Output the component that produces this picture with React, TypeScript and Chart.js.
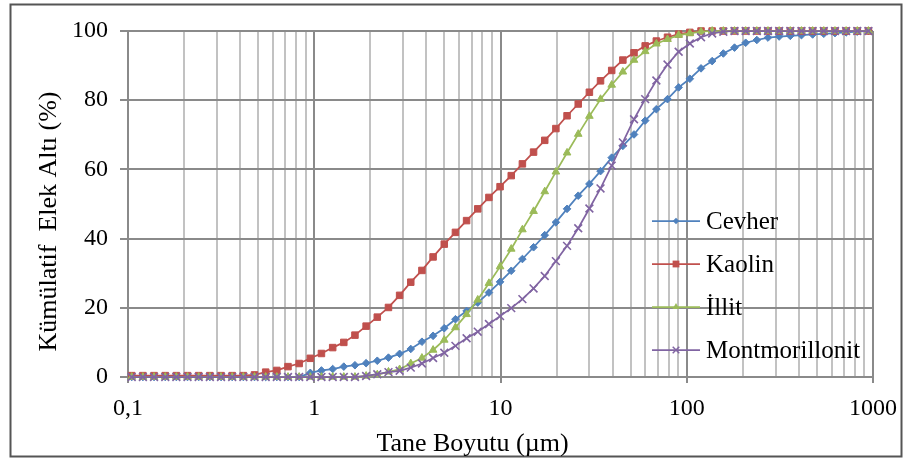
import React, { useEffect, useRef } from "react";
import { Chart, registerables } from "chart.js";

Chart.register(...registerables);

const FONT = "'Liberation Serif', 'Times New Roman', Times, serif";

// Particle size (µm) of each measured point
const sizes = [
  0.1047, 0.1202, 0.138, 0.1585, 0.1818, 0.2087, 0.2396, 0.2751, 0.3158, 0.3626,
  0.4163, 0.4778, 0.5486, 0.6297, 0.7228, 0.8299, 0.9526, 1.093, 1.256, 1.441,
  1.654, 1.899, 2.18, 2.503, 2.873, 3.298, 3.786, 4.346, 4.99, 5.728,
  6.575, 7.549, 8.666, 9.947, 11.42, 13.11, 15.05, 17.28, 19.83, 22.77,
  26.14, 30.01, 34.44, 39.54, 45.39, 52.11, 59.82, 68.68, 78.83, 90.49,
  103.9, 119.3, 136.9, 157.2, 180.5, 207.2, 237.8, 273.0, 313.4, 359.7,
  413.0, 474.1, 544.2, 624.9, 717.3, 823.4, 945.1,
];

const cevher = [
  0, 0, 0, 0, 0, 0, 0, 0, 0, 0,
  0, 0, 0, 0, 0, 0, 1.2, 1.9, 2.3, 3.0,
  3.4, 4.0, 4.7, 5.6, 6.7, 8.1, 10.2, 11.9, 14.1, 16.7,
  19.1, 21.5, 24.4, 27.5, 30.7, 34.1, 37.5, 41.0, 44.7, 48.6,
  52.4, 55.8, 59.5, 63.4, 66.8, 70.1, 74.1, 77.4, 80.3, 83.7,
  86.2, 89.2, 91.3, 93.5, 95.2, 96.6, 97.4, 98.1, 98.4, 98.6,
  98.8, 99.0, 99.2, 99.4, 99.6, 99.8, 100,
];

const kaolin = [
  0.4, 0.4, 0.4, 0.4, 0.4, 0.4, 0.4, 0.4, 0.4, 0.4,
  0.4, 0.6, 1.4, 1.9, 3.0, 3.9, 5.4, 6.8, 8.5, 10.0,
  12.1, 14.7, 17.3, 20.1, 23.6, 27.4, 30.8, 34.7, 38.4, 41.8,
  45.2, 48.6, 51.9, 55.0, 58.2, 61.6, 65.0, 68.4, 71.8, 75.5,
  78.9, 82.3, 85.6, 88.6, 91.6, 93.7, 95.7, 97.1, 98.2, 99.1,
  99.6, 100, 100, 100, 100, 100, 100, 100, 100, 100,
  100, 100, 100, 100, 100, 100, 100,
];

const illit = [
  0, 0, 0, 0, 0, 0, 0, 0, 0, 0,
  0, 0, 0, 0, 0, 0, 0, 0, 0, 0,
  0, 0.3, 0.7, 1.5, 2.2, 3.9, 5.5, 7.8, 10.7, 14.3,
  18.1, 22.3, 27.1, 31.9, 37.0, 42.6, 47.9, 53.6, 59.3, 64.8,
  70.2, 75.4, 80.3, 84.4, 88.2, 91.6, 94.1, 96.3, 97.6, 98.8,
  99.3, 99.8, 100, 100, 100, 100, 100, 100, 100, 100,
  100, 100, 100, 100, 100, 100, 100,
];

const montmorillonit = [
  0, 0, 0, 0, 0, 0, 0, 0, 0, 0,
  0, 0, 0, 0, 0, 0, 0, 0, 0, 0,
  0, 0.3, 0.8, 1.4, 1.8, 2.7, 3.9, 5.5, 7.0, 9.0,
  11.2, 13.1, 15.3, 17.6, 19.9, 22.5, 25.6, 29.2, 33.5, 37.9,
  43.0, 48.7, 54.5, 61.1, 67.8, 74.5, 80.3, 85.7, 90.3, 94.0,
  96.4, 98.2, 99.3, 99.8, 100, 100, 100, 100, 100, 100,
  100, 100, 100, 100, 100, 100, 100,
];

const seriesLabels = ["Cevher", "Kaolin", "İllit", "Montmorillonit"];
const seriesColors = ["#4F81BD", "#C0504D", "#9BBB59", "#8064A2"];
const seriesMarkers = ["rectRot", "rect", "triangle", "crossRot"];
const seriesRadii = [3.8, 4.6, 4.4, 5.5];

const decadeTicks = [0.1, 1, 10, 100, 1000];
const xTickLabels = ["0,1", "1", "10", "100", "1000"];
const yTickStep = 20;

const xAxisTitle = "Tane Boyutu (µm)";
const yAxisTitle = "Kümülatif  Elek Altı (%)";

const MAJOR_GRID = "#8A8A8A";
const MINOR_GRID = "#C2C2C2";

function decadeIndex(v: number): number {
  return decadeTicks.findIndex((d) => Math.abs(d - v) / d < 1e-6);
}

// gridline positions of the log axis: 1..9 x each decade
const xGridValues: number[] = [];
for (let i = 0; i < decadeTicks.length - 1; i++) {
  for (let m = 1; m <= 9; m++) {
    xGridValues.push(Math.round(decadeTicks[i] * m * 1e6) / 1e6);
  }
}
xGridValues.push(decadeTicks[decadeTicks.length - 1]);

function drawMarker(ctx: CanvasRenderingContext2D, style: string, x: number, y: number, color: string) {
  ctx.save();
  ctx.fillStyle = color;
  ctx.strokeStyle = color;
  ctx.lineWidth = 1.5;
  ctx.beginPath();
  if (style === "rectRot") {
    const r = 3.2;
    ctx.moveTo(x - r, y);
    ctx.lineTo(x, y - r);
    ctx.lineTo(x + r, y);
    ctx.lineTo(x, y + r);
    ctx.closePath();
    ctx.fill();
  } else if (style === "rect") {
    const s = 3.4;
    ctx.rect(x - s, y - s, 2 * s, 2 * s);
    ctx.fill();
  } else if (style === "triangle") {
    const r = 4;
    ctx.moveTo(x, y - r);
    ctx.lineTo(x + r * 0.866, y + r * 0.5);
    ctx.lineTo(x - r * 0.866, y + r * 0.5);
    ctx.closePath();
    ctx.fill();
  } else {
    const r = 3.3;
    ctx.moveTo(x - r, y - r);
    ctx.lineTo(x + r, y + r);
    ctx.moveTo(x + r, y - r);
    ctx.lineTo(x - r, y + r);
    ctx.stroke();
  }
  ctx.restore();
}

const decorPlugin = {
  id: "decor",
  beforeDraw(chart: any) {
    const { ctx, width, height } = chart;
    ctx.save();
    ctx.fillStyle = "#ffffff";
    ctx.fillRect(0, 0, width, height);
    ctx.restore();
  },
  afterDraw(chart: any) {
    const ctx: CanvasRenderingContext2D = chart.ctx;
    ctx.save();
    // outer frame
    ctx.strokeStyle = "#555555";
    ctx.lineWidth = 2;
    ctx.strokeRect(10.5, 4.5, 891, 452);

    // axis titles
    ctx.fillStyle = "#000000";
    ctx.font = `26px ${FONT}`;
    ctx.textAlign = "center";
    ctx.textBaseline = "alphabetic";
    ctx.fillText(xAxisTitle, 472.5, 450.5);
    ctx.save();
    ctx.translate(56, 221.5);
    ctx.rotate(-Math.PI / 2);
    ctx.fillText(yAxisTitle, 0, 0);
    ctx.restore();

    // legend
    const rowY0 = 221;
    const rowStep = 43;
    ctx.font = `25px ${FONT}`;
    ctx.textAlign = "left";
    ctx.textBaseline = "middle";
    seriesLabels.forEach((label, i) => {
      const y = rowY0 + i * rowStep;
      ctx.strokeStyle = seriesColors[i];
      ctx.lineWidth = 1.75;
      ctx.beginPath();
      ctx.moveTo(652, y);
      ctx.lineTo(700, y);
      ctx.stroke();
      drawMarker(ctx, seriesMarkers[i], 676, y, seriesColors[i]);
      ctx.fillStyle = "#000000";
      ctx.fillText(label, 706, y + 1);
    });
    ctx.restore();
  },
};

export default function App() {
  const canvasRef = useRef<HTMLCanvasElement | null>(null);

  useEffect(() => {
    document.body.style.margin = "0";
    const canvas = canvasRef.current;
    if (!canvas) return;

    const allSeries = [cevher, kaolin, illit, montmorillonit];
    const datasets = allSeries.map((vals, i) => ({
      label: seriesLabels[i],
      data: sizes.map((s, j) => ({ x: s, y: vals[j] })),
      borderColor: seriesColors[i],
      backgroundColor: seriesColors[i],
      pointBackgroundColor: seriesColors[i],
      pointBorderColor: seriesColors[i],
      pointStyle: seriesMarkers[i],
      pointRadius: seriesRadii[i],
      pointBorderWidth: seriesMarkers[i] === "crossRot" ? 1.6 : 1,
      borderWidth: 1.75,
      tension: 0,
      fill: false,
      order: 3 - i,
      clip: false,
    }));

    const chart = new Chart(canvas, {
      type: "line",
      data: { datasets: datasets as any },
      plugins: [decorPlugin],
      options: {
        responsive: false,
        animation: false,
        devicePixelRatio: 1,
        layout: { padding: { left: 0, top: 31, right: 31, bottom: 0 } },
        plugins: {
          legend: { display: false },
          tooltip: { enabled: false },
          title: { display: false },
        },
        scales: {
          x: {
            type: "logarithmic",
            position: "bottom",
            min: 0.1,
            max: 1000,
            afterBuildTicks: (scale: any) => {
              scale.ticks = xGridValues.map((v) => ({ value: v, major: false }));
            },
            afterFit: (scale: any) => {
              scale.height = 82;
              scale.paddingLeft = 0;
              scale.paddingRight = 0;
            },
            ticks: {
              autoSkip: false,
              maxRotation: 0,
              minRotation: 0,
              padding: 11,
              color: "#000000",
              font: { family: FONT, size: 24 },
              callback: (value: any) => {
                const idx = decadeIndex(Number(value));
                return idx >= 0 ? xTickLabels[idx] : "";
              },
            },
            grid: {
              color: (c: any) => (c.tick && decadeIndex(c.tick.value) >= 0 ? MAJOR_GRID : MINOR_GRID),
              lineWidth: 2,
              tickLength: 6,
              tickColor: (c: any) =>
                c.tick && decadeIndex(c.tick.value) >= 0 ? MAJOR_GRID : "rgba(0,0,0,0)",
              drawTicks: true,
            },
            border: { display: true, color: MAJOR_GRID, width: 2 },
          },
          y: {
            type: "linear",
            min: 0,
            max: 100,
            afterFit: (scale: any) => {
              scale.width = 128;
              scale.paddingTop = 0;
              scale.paddingBottom = 0;
            },
            ticks: {
              stepSize: yTickStep,
              padding: 12,
              color: "#000000",
              font: { family: FONT, size: 24 },
            },
            grid: {
              color: MAJOR_GRID,
              lineWidth: 2,
              tickLength: 8,
              tickColor: MAJOR_GRID,
            },
            border: { display: true, color: MAJOR_GRID, width: 2 },
          },
        },
      } as any,
    });

    return () => {
      chart.destroy();
    };
  }, []);

  return (
    <div style={{ width: 904, height: 459 }}>
      <canvas ref={canvasRef} width={904} height={459} style={{ display: "block" }} />
    </div>
  );
}
